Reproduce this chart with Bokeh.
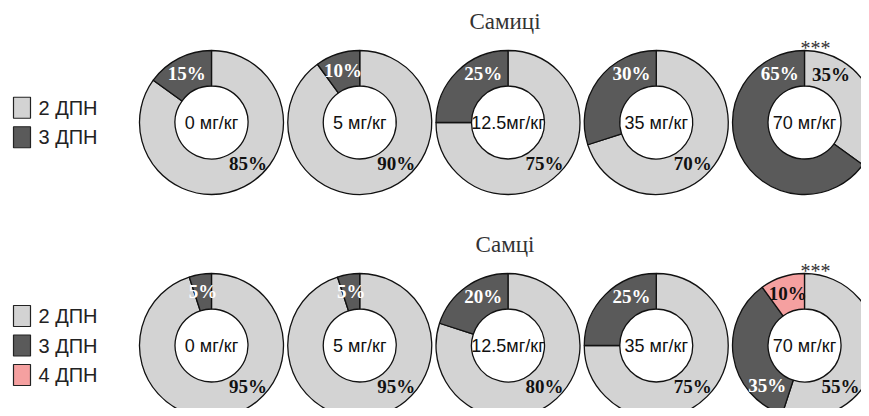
import math
from bokeh.plotting import figure
from bokeh.models import ColumnDataSource, Range1d
from bokeh.core.properties import value
from bokeh.embed import file_html
from bokeh.resources import INLINE

# ---------------- data ----------------
doses = ["0 мг/кг", "5 мг/кг", "12.5мг/кг", "35 мг/кг", "70 мг/кг"]
categories = ["2 ДПН", "3 ДПН", "4 ДПН"]
female_2 = [85, 90, 75, 70, 35]
female_3 = [15, 10, 25, 30, 65]
male_2 = [95, 95, 80, 75, 55]
male_3 = [5, 5, 20, 25, 35]
male_4 = [0, 0, 0, 0, 10]
panel_titles = ["Самиці", "Самці"]
significance = ["", "", "", "", "***"]

# ---------------- styles / layout ----------------
COLORS = ["#d3d3d3", "#5a5a5a", "#f5a0a0"]
LABEL_COLORS = ["#111111", "#ffffff", "#111111"]
SERIF = "Liberation Serif"
SANS = "Liberation Sans"

W, H = 861, 408
CX0, DX = 211, 148.25        # donut centre x and spacing
ROW_CY = [122, 345]          # donut centre y per panel (from top)
R_OUT, R_IN = 72, 36.5
R_LAB = 54.5

p = figure(width=W, height=H, x_range=Range1d(0, W), y_range=Range1d(-H, 0),
           output_backend="svg", toolbar_location=None, min_border=0,
           x_axis_type=None, y_axis_type=None)
p.grid.visible = False
p.outline_line_color = None
p.background_fill_color = "white"
p.border_fill_color = "white"

panels = [
    (panel_titles[0], [female_2, female_3], 2),
    (panel_titles[1], [male_2, male_3, male_4], 3),
]

for row, (title, series, ncat) in enumerate(panels):
    cy = ROW_CY[row]
    wedge = dict(x=[], y=[], s=[], e=[], c=[])
    lab = dict(x=[], y=[], t=[], c=[])
    centre = dict(x=[], y=[], t=[])
    for i, dose in enumerate(doses):
        cx = CX0 + i * DX
        vals = [s[i] for s in series]
        segs = [(k, v) for k, v in enumerate(vals) if v > 0]
        cum = 0.0
        for j, (k, v) in enumerate(segs):
            a0 = cum / 100.0 * 360.0
            a1 = (cum + v) / 100.0 * 360.0
            wedge["x"].append(cx)
            wedge["y"].append(-cy)
            wedge["s"].append(math.pi / 2 - math.radians(a0))
            wedge["e"].append(math.pi / 2 - math.radians(a1))
            wedge["c"].append(COLORS[k])
            # label angle (clockwise from 12 o'clock)
            if j == 0:
                th = 138.0 if a1 >= 160 else 29.0
            elif j == len(segs) - 1:
                th = max((a0 + a1) / 2.0, 333.0)
            else:
                th = a0 + 25.0
            lx = cx + R_LAB * math.sin(math.radians(th))
            ly = cy - R_LAB * math.cos(math.radians(th))
            lab["x"].append(min(lx, W - 21))
            lab["y"].append(-ly)
            lab["t"].append(f"{v}%")
            lab["c"].append(LABEL_COLORS[k])
            cum += v
        centre["x"].append(cx)
        centre["y"].append(-cy)
        centre["t"].append(dose)
        if significance[i]:
            p.text(x=[cx + 11], y=[-(cy - 75)], text=[significance[i]],
                   text_font=value(SERIF), text_font_size="20px", text_color="#333333",
                   text_align="center", text_baseline="middle")

    p.annular_wedge(x="x", y="y", inner_radius=R_IN, outer_radius=R_OUT,
                    start_angle="s", end_angle="e", direction="clock",
                    fill_color="c", line_color="#111111", line_width=1.3,
                    source=ColumnDataSource(wedge))
    p.text(x="x", y="y", text="t", text_color="c", source=ColumnDataSource(lab),
           text_font=value(SERIF), text_font_style="bold", text_font_size="19px",
           text_align="center", text_baseline="middle")
    p.text(x="x", y="y", text="t", source=ColumnDataSource(centre),
           text_font=value(SANS), text_font_size="18px", text_color="#111111",
           text_align="center", text_baseline="middle")

    # panel title
    p.text(x=[CX0 + 2 * DX - 3], y=[-(cy - 101)], text=[title],
           text_font=value(SERIF), text_font_size="23px", text_color="#333333",
           text_align="center", text_baseline="middle")

    # legend
    step = 29.5
    ly = [cy + (k - (ncat - 1) / 2.0) * step for k in range(ncat)]
    p.rect(x=[21.5] * ncat, y=[-v for v in ly], width=17, height=21,
           fill_color=COLORS[:ncat], line_color="#222222", line_width=1.2)
    p.text(x=[38] * ncat, y=[-v for v in ly], text=categories[:ncat],
           text_font=value(SANS), text_font_size="20px", text_color="#222222",
           text_align="left", text_baseline="middle")

open("out.html", "w").write(file_html(p, INLINE))
